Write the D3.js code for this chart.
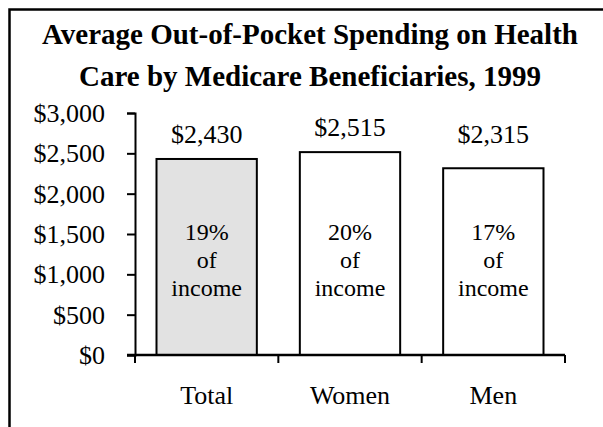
<!DOCTYPE html>
<html>
<head>
<meta charset="utf-8">
<script src="https://cdn.jsdelivr.net/npm/d3@7"></script>
<style>
  body { margin: 0; background: #fff; }
  svg { display: block; font-family: "Liberation Serif", "Times New Roman", serif; }
</style>
</head>
<body>
<div id="chart"></div>
<script>
  'use strict';

  // data
  var titleLines = ['Average Out-of-Pocket Spending on Health', 'Care by Medicare Beneficiaries, 1999'];
  var categories = ['Total', 'Women', 'Men'];
  var spending = [2430, 2515, 2315];
  var incomeShare = ['19%', '20%', '17%'];
  var yTicks = [0, 500, 1000, 1500, 2000, 2500, 3000];

  var width = 603, height = 427;
  var area = { left: 135, right: 565, top: 113, bottom: 355 };

  var svg = d3.select('#chart')
    .append('svg')
      .attr('width', width)
      .attr('height', height);

  // outer frame (cropped on right and bottom)
  svg.append('rect')
    .attr('x', 9.5).attr('y', 9.5)
    .attr('width', 700).attr('height', 600)
    .attr('fill', 'none')
    .attr('stroke', '#000')
    .attr('stroke-width', 2.5);

  // title
  svg.append('text')
    .attr('text-anchor', 'middle')
    .style('font-weight', 'bold')
    .style('font-size', '29px')
    .selectAll('tspan')
    .data(titleLines)
    .enter().append('tspan')
      .attr('x', 310)
      .attr('y', function(d, i) { return 44 + i * 42; })
      .text(function(d) { return d; });

  var x = d3.scaleBand()
    .domain(categories)
    .range([area.left, area.right])
    .paddingInner(0.3)
    .paddingOuter(0.15);

  var y = d3.scaleLinear()
    .domain([0, 3000])
    .range([area.bottom, area.top]);

  var fmt = d3.format('$,.0f');

  // y axis
  var yAxis = d3.axisLeft(y)
    .tickValues(yTicks)
    .tickFormat(fmt)
    .tickSize(8)
    .tickSizeOuter(8)
    .tickPadding(22);

  var gy = svg.append('g')
    .attr('transform', 'translate(' + area.left + ',0)')
    .call(yAxis);
  gy.select('.domain').attr('stroke-width', 2);
  gy.selectAll('.tick line').attr('stroke-width', 2);
  gy.selectAll('text')
    .attr('fill', '#000')
    .style('font-family', '"Liberation Serif", serif')
    .style('font-size', '26px')
    .attr('dy', '0.33em');

  // bars
  svg.append('g')
    .selectAll('rect')
    .data(spending)
    .enter().append('rect')
      .attr('x', function(d, i) { return x(categories[i]); })
      .attr('y', function(d) { return y(d); })
      .attr('width', x.bandwidth())
      .attr('height', function(d) { return y(0) - y(d); })
      .attr('fill', function(d, i) { return i === 0 ? '#e2e2e2' : '#fff'; })
      .attr('stroke', '#000')
      .attr('stroke-width', 2);

  // x axis: baseline with ticks at category boundaries
  var xEdge = d3.scaleLinear().domain([0, categories.length]).range([area.left, area.right]);

  svg.append('line')
    .attr('x1', area.left - 8).attr('x2', area.right)
    .attr('y1', y(0)).attr('y2', y(0))
    .attr('stroke', '#000').attr('stroke-width', 2.5);

  svg.append('g')
    .selectAll('line')
    .data(d3.range(categories.length + 1))
    .enter().append('line')
      .attr('x1', function(d) { return xEdge(d); })
      .attr('x2', function(d) { return xEdge(d); })
      .attr('y1', y(0))
      .attr('y2', y(0) + 8)
      .attr('stroke', '#000')
      .attr('stroke-width', 2);

  // category labels
  svg.append('g')
    .selectAll('text')
    .data(categories)
    .enter().append('text')
      .attr('x', function(d) { return x(d) + x.bandwidth() / 2; })
      .attr('y', 404)
      .attr('text-anchor', 'middle')
      .style('font-size', '26px')
      .text(function(d) { return d; });

  // value labels above bars
  svg.append('g')
    .selectAll('text')
    .data(spending)
    .enter().append('text')
      .attr('x', function(d, i) { return x(categories[i]) + x.bandwidth() / 2; })
      .attr('y', function(d) { return Math.min(y(d) - 16, 143); })
      .attr('text-anchor', 'middle')
      .style('font-size', '26px')
      .text(function(d) { return fmt(d); });

  // share-of-income labels inside bars
  var inner = svg.append('g')
    .selectAll('text')
    .data(incomeShare)
    .enter().append('text')
      .attr('text-anchor', 'middle')
      .style('font-size', '24px');

  inner.selectAll('tspan')
    .data(function(d, i) { return [[d, i], ['of', i], ['income', i]]; })
    .enter().append('tspan')
      .attr('x', function(d) { return x(categories[d[1]]) + x.bandwidth() / 2; })
      .attr('y', function(d, j) { return 268 + (j - 1) * 28; })
      .text(function(d) { return d[0]; });
</script>
</body>
</html>
